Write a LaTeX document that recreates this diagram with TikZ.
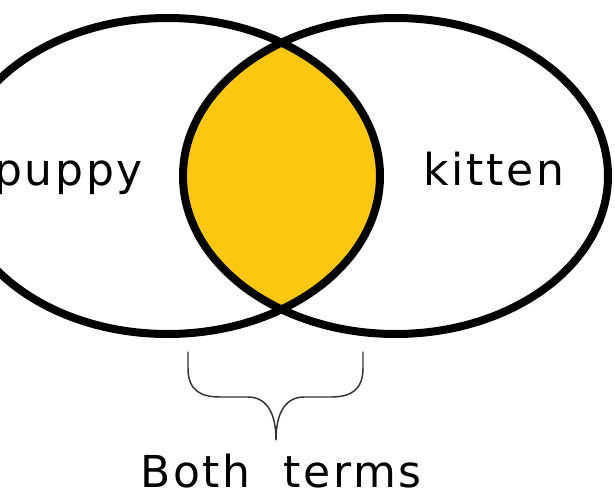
\documentclass[tikz,border=0pt]{standalone}
\usepackage{fontspec}
\setmainfont{DejaVu Sans}[LetterSpace=6]
\usepackage{xcolor}
\definecolor{overlap}{HTML}{FDC70F}
\definecolor{bracegray}{HTML}{333333}

\begin{document}
\begin{tikzpicture}[x=0.75pt, y=-0.75pt,
  ring/.style={draw=black, line width=6pt},
  word/.style={inner sep=0pt, font=\fontsize{33}{40}\selectfont},
  bracket/.style={draw=bracegray, line width=1.1pt, line cap=round, line join=round},
]
  \useasboundingbox (0,0) rectangle (615,493);

  \coordinate (lc) at (167.5,176);
  \coordinate (rc) at (395.5,176);

  % shared part
  \begin{scope}
    \clip (lc) ellipse [x radius=212.5, y radius=158];
    \fill[overlap] (rc) ellipse [x radius=212.5, y radius=158];
  \end{scope}
  \draw[ring] (lc) ellipse [x radius=212.5, y radius=158];
  \draw[ring] (rc) ellipse [x radius=212.5, y radius=158];

  \node[word, anchor=base east] (pup) at (143,185) {puppy};
  \node[word, anchor=base] (kit) at (494,185) {kitten};
  \node[word, anchor=base] (both) at (281,487) {Both\ \ terms};

  % brace under the overlap
  \coordinate (bl) at (188,352);
  \coordinate (br) at (363,352);
  \coordinate (bt) at (276,440);
  \draw[bracket] (bl) -- (188,368) .. controls (188,390) and (200,397) .. (220,397)
    -- (248,397) .. controls (266,397) and (276,412) .. (bt)
    .. controls (276,412) and (286,397) .. (304,397)
    -- (331,397) .. controls (351,397) and (363,390) .. (363,368) -- (br);
\end{tikzpicture}
\end{document}
